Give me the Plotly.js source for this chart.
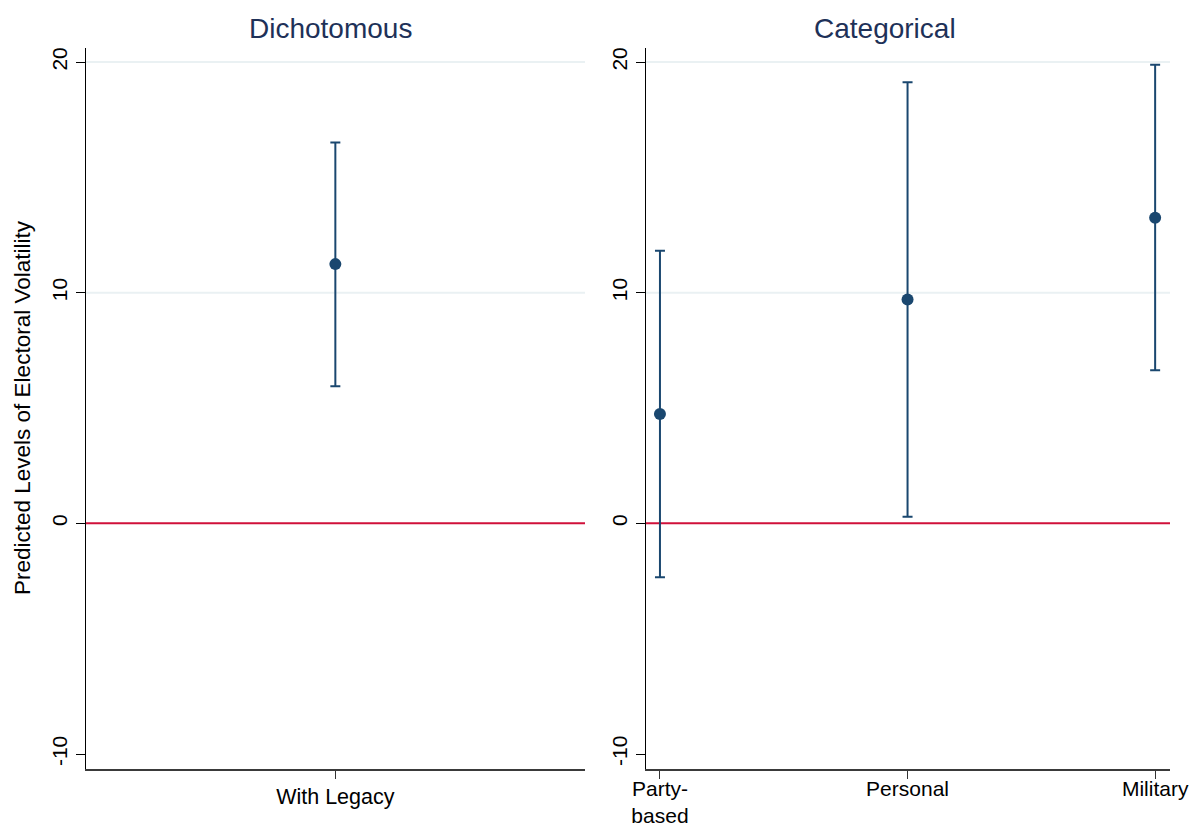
<!DOCTYPE html>
<html>
<head>
<meta charset="utf-8">
<script src="https://cdn.plot.ly/plotly-3.0.1.min.js"></script>
<style>
  html, body { margin: 0; padding: 0; background: #ffffff; }
  #chart { width: 1192px; height: 829px; }
</style>
</head>
<body>
<div id="chart"></div>
<script>
// ---- Data ----
const panelTitles = ['Dichotomous', 'Categorical'];
const yAxisTitle = 'Predicted Levels of Electoral Volatility';

const dichoCategories = ['With Legacy'];
const dichoEstimate = [11.24];
const dichoLower = [5.94];
const dichoUpper = [16.51];

const catCategories = ['Party-<br>based', 'Personal', 'Military'];
const catEstimate = [4.74, 9.71, 13.25];
const catLower = [-2.34, 0.29, 6.64];
const catUpper = [11.82, 19.13, 19.88];

const yTickVals = [-10, 0, 10, 20];
const yTickText = ['-10', '0', '10', '20'];
const gridVals = [10, 20];
const referenceValue = 0;

// ---- Styles ----
const FONT = 'Liberation Sans, Arial, Helvetica, sans-serif';
const markColor = '#1a476f';
const refColor = '#d0103a';
const gridColor = '#eaf1f3';
const titleColor = '#1e3158';

function idx(arr) { return arr.map((_, i) => i + 1); }
function diff(a, b) { return a.map((v, i) => v - b[i]); }

function ciTrace(cats, est, lo, hi, xa, ya) {
  return {
    type: 'scatter', mode: 'markers',
    x: idx(cats), y: est,
    xaxis: xa, yaxis: ya,
    marker: { color: markColor, size: 12 },
    error_y: {
      type: 'data', symmetric: false,
      array: diff(hi, est), arrayminus: diff(est, lo),
      color: markColor, thickness: 2, width: 5
    },
    hoverinfo: 'x+y', showlegend: false
  };
}

const traces = [
  ciTrace(dichoCategories, dichoEstimate, dichoLower, dichoUpper, 'x', 'y'),
  ciTrace(catCategories, catEstimate, catLower, catUpper, 'x2', 'y2')
];

const yDomain = [1 - 769 / 829, 1 - 48 / 829];
const yRange = [-10.65, 20.61];

function yAxis(anchor) {
  return {
    domain: yDomain, range: yRange, anchor: anchor,
    tickmode: 'array', tickvals: yTickVals, ticktext: yTickText,
    tickangle: -90, ticks: 'outside', ticklen: 9, tickwidth: 1, tickcolor: '#000',
    tickfont: { family: FONT, size: 21, color: '#000' },
    showline: true, linecolor: '#000', linewidth: 1,
    showgrid: false, zeroline: false, automargin: false, fixedrange: true
  };
}
function xAxis(domain, range, cats, anchor, standoff, fsize) {
  return {
    domain: domain, range: range, anchor: anchor,
    tickmode: 'array', tickvals: idx(cats), ticktext: cats,
    ticks: 'outside', ticklen: 8, tickwidth: 1, tickcolor: '#333',
    ticklabelstandoff: standoff,
    tickfont: { family: FONT, size: fsize, color: '#000' },
    showline: true, linecolor: '#3a3a3a', linewidth: 1.5,
    showgrid: false, zeroline: false, automargin: false, fixedrange: true
  };
}

const shapes = [];
[['x', 'y'], ['x2', 'y2']].forEach(([xa, ya]) => {
  gridVals.forEach(g => shapes.push({
    type: 'line', xref: xa + ' domain', yref: ya, x0: 0, x1: 1, y0: g, y1: g,
    line: { color: gridColor, width: 2 }, layer: 'below'
  }));
  shapes.push({
    type: 'line', xref: xa + ' domain', yref: ya, x0: 0, x1: 1,
    y0: referenceValue, y1: referenceValue,
    line: { color: refColor, width: 2 }, layer: 'below'
  });
});

const annotations = [
  { text: panelTitles[0], xref: 'paper', yref: 'paper', x: 330 / 1192, y: 1 - 28 / 829,
    xanchor: 'center', yanchor: 'middle', showarrow: false,
    font: { family: FONT, size: 28, color: titleColor } },
  { text: panelTitles[1], xref: 'paper', yref: 'paper', x: 885 / 1192, y: 1 - 28 / 829,
    xanchor: 'center', yanchor: 'middle', showarrow: false,
    font: { family: FONT, size: 28, color: titleColor } },
  { text: yAxisTitle, xref: 'paper', yref: 'paper', x: 22 / 1192, y: 1 - 408 / 829,
    xanchor: 'center', yanchor: 'middle', textangle: -90, showarrow: false,
    font: { family: FONT, size: 22.5, color: '#000' } }
];

const layout = {
  width: 1192, height: 829,
  margin: { l: 0, r: 0, t: 0, b: 0 },
  paper_bgcolor: '#ffffff', plot_bgcolor: '#ffffff',
  showlegend: false,
  xaxis: xAxis([85.7 / 1192, 585 / 1192], [0, 2], dichoCategories, 'y', 0, 21.5),
  yaxis: yAxis('x'),
  xaxis2: xAxis([645.6 / 1192, 1170 / 1192], [0.942, 3.06], catCategories, 'y2', -8, 21),
  yaxis2: yAxis('x2'),
  shapes: shapes,
  annotations: annotations
};

Plotly.newPlot('chart', traces, layout, { displayModeBar: false, staticPlot: true });
</script>
</body>
</html>
